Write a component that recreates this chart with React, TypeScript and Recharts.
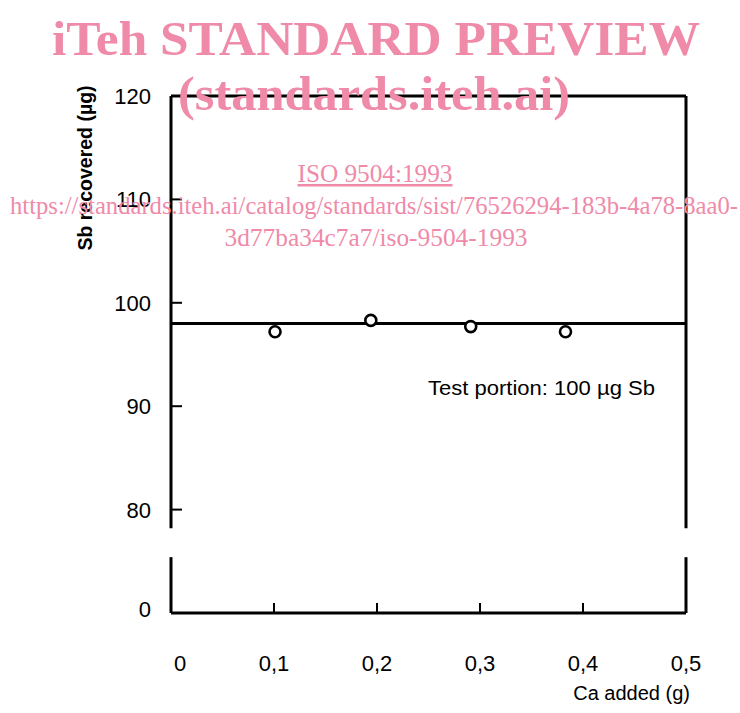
import React from 'react';
import { ComposedChart, Scatter, XAxis, YAxis, ReferenceLine } from 'recharts';

// Ca added (g) vs Sb recovered (µg)
const caAdded = [0.101, 0.194, 0.291, 0.383];
const sbRecovered = [97.2, 98.3, 97.7, 97.2];
const meanRecovery = 98.0;

const xTicks = [0, 0.1, 0.2, 0.3, 0.4, 0.5];
const xTickLabels = ['0', '0,1', '0,2', '0,3', '0,4', '0,5'];
// the axis is broken: the bottom tick stands for 0, the rest are real values
const yTicks = [70, 80, 90, 100, 110, 120];
const yTickLabels = ['0', '80', '90', '100', '110', '120'];
const yBreak = [75.4, 78.2];

const data = caAdded.map((x, i) => ({ x, y: sbRecovered[i] }));

const FONT = '"Liberation Sans", Arial, sans-serif';
const SERIF = '"Liberation Serif", "Times New Roman", serif';
const PINK = '#ef8aa9';

const XTick = (props: any) => {
    const { x, y, payload } = props;
    const i = xTicks.indexOf(payload.value);
    const inner = payload.value > 0 && payload.value < 0.5;
    return (
        <g>
            {inner && <line x1={x} x2={x} y1={y} y2={y - 10} stroke="#000" strokeWidth={2} />}
            <text x={x + (i === 0 ? 9 : 0)} y={y + 58} textAnchor="middle" fontSize={22} fontFamily={FONT} fill="#000">
                {xTickLabels[i]}
            </text>
        </g>
    );
};

const YTick = (props: any) => {
    const { x, y, payload } = props;
    const i = yTicks.indexOf(payload.value);
    const inner = payload.value > 70 && payload.value < 120;
    return (
        <g>
            {inner && <line x1={x} x2={x + 11} y1={y} y2={y} stroke="#000" strokeWidth={2} />}
            <text x={x - 20} y={y + 8 - (i === 0 ? 4 : 0)} textAnchor="end" fontSize={22} fontFamily={FONT} fill="#000">
                {yTickLabels[i]}
            </text>
        </g>
    );
};

const Dot = (props: any) => (
    <circle cx={props.cx} cy={props.cy} r={5.5} fill="#fff" stroke="#000" strokeWidth={2.6} />
);

const App: React.FC = () => {
    return (
        <div style={{ position: 'absolute', left: 0, top: 0, width: 740, height: 713, background: '#fff' }}>
            <ComposedChart width={740} height={713} data={data} margin={{ top: 96, right: 54, bottom: 70, left: 111 }}>
                <XAxis
                    type="number"
                    dataKey="x"
                    domain={[0, 0.5]}
                    ticks={xTicks}
                    height={30}
                    tickSize={0}
                    tickMargin={0}
                    tickLine={false}
                    axisLine={{ stroke: '#000', strokeWidth: 3 }}
                    tick={XTick}
                    interval={0}
                />
                <YAxis
                    type="number"
                    dataKey="y"
                    domain={[70, 120]}
                    ticks={yTicks}
                    width={60}
                    tickSize={0}
                    tickMargin={0}
                    tickLine={false}
                    axisLine={false}
                    tick={YTick}
                    interval={0}
                />
                {/* frame with the break in both vertical sides */}
                <ReferenceLine segment={[{ x: 0, y: yBreak[1] }, { x: 0, y: 120 }]} stroke="#000" strokeWidth={3} />
                <ReferenceLine segment={[{ x: 0, y: 70 }, { x: 0, y: yBreak[0] }]} stroke="#000" strokeWidth={3} />
                <ReferenceLine segment={[{ x: 0.5, y: yBreak[1] }, { x: 0.5, y: 120 }]} stroke="#000" strokeWidth={3} />
                <ReferenceLine segment={[{ x: 0.5, y: 70 }, { x: 0.5, y: yBreak[0] }]} stroke="#000" strokeWidth={3} />
                <ReferenceLine y={120} stroke="#000" strokeWidth={3} />
                <ReferenceLine y={meanRecovery} stroke="#000" strokeWidth={3} />
                <Scatter data={data} shape={Dot} isAnimationActive={false} />
            </ComposedChart>

            <svg width={740} height={713} style={{ position: 'absolute', left: 0, top: 0, pointerEvents: 'none' }}>
                <text x={92} y={168} transform="rotate(-90 92 168)" textAnchor="middle" fontSize={19.5} fontWeight="bold" fontFamily={FONT} fill="#000">
                    Sb recovered (µg)
                </text>
                <text x={690} y={700} textAnchor="end" fontSize={20} fontFamily={FONT} fill="#000">
                    Ca added (g)
                </text>
                <text x={428} y={395} fontSize={21} fontFamily={FONT} fill="#000" textLength={227} lengthAdjust="spacingAndGlyphs">
                    Test portion: 100 µg Sb
                </text>

                <g fontFamily={SERIF} fill={PINK} textAnchor="middle">
                    <text x={376} y={55} fontSize={48} fontWeight="bold" textLength={648} lengthAdjust="spacingAndGlyphs">iTeh STANDARD PREVIEW</text>
                    <text x={374} y={110} fontSize={48} fontWeight="bold" textLength={392} lengthAdjust="spacingAndGlyphs">(standards.iteh.ai)</text>
                    <text x={375} y={182} fontSize={25} textDecoration="underline" textLength={155} lengthAdjust="spacingAndGlyphs">ISO 9504:1993</text>
                    <text x={374} y={214} fontSize={25} textLength={728} lengthAdjust="spacingAndGlyphs">https://standards.iteh.ai/catalog/standards/sist/76526294-183b-4a78-8aa0-</text>
                    <text x={376} y={246} fontSize={25} textLength={303} lengthAdjust="spacingAndGlyphs">3d77ba34c7a7/iso-9504-1993</text>
                </g>
            </svg>
        </div>
    );
};

export default App;
